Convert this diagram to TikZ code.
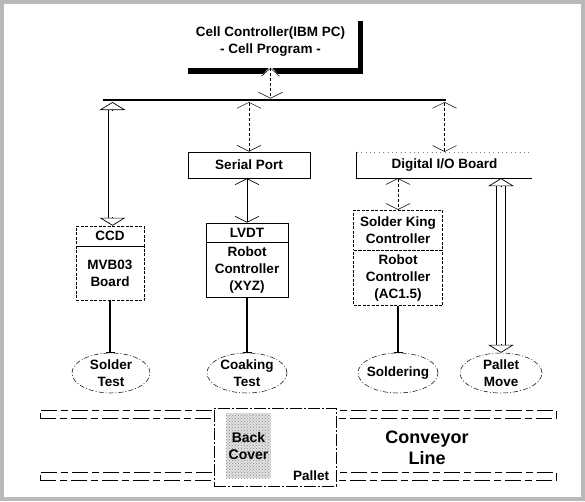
\documentclass[tikz,border=0pt]{standalone}
\usepackage{fontspec}
\setmainfont{Liberation Sans}
\usetikzlibrary{arrows.meta,positioning,shapes.geometric,shadows,calc,patterns}

\begin{document}
\begin{tikzpicture}[x=1pt, y=-1pt,
  every node/.style={font=\bfseries\fontsize{13.5}{17}\selectfont, align=center, inner sep=0pt},
  bx/.style={draw, line width=0.7pt},
  dbx/.style={draw, line width=0.5pt, dash pattern=on 3pt off 1.5pt},
  el/.style={ellipse, draw, line width=0.5pt, dash pattern=on 5pt off 2pt on 1pt off 2pt, minimum width=80pt, minimum height=40pt, inner xsep=-6pt, inner ysep=-2pt},
  rail/.style={draw, line width=0.6pt, dash pattern=on 16pt off 4pt on 7pt off 4pt, minimum width=516pt, minimum height=8pt},
  dbl/.style={densely dashed, line width=0.5pt, {Straight Barb[length=6pt,width=24pt]}-{Straight Barb[length=6pt,width=24pt]}},
  sbl/.style={line width=0.6pt, {Straight Barb[length=6pt,width=24pt]}-{Straight Barb[length=6pt,width=24pt]}},
  stem/.style={line width=1.6pt, -{Bar[width=9pt,line width=1pt]}},
  fat/.style={double, double distance=8pt, line width=0.7pt, shorten <=7.5pt, shorten >=7.5pt},
  fathead/.style={line width=0.7pt, -{Triangle[open, fill=white, length=8pt, width=26pt, line join=miter]}}]
\useasboundingbox (0,0) rectangle (585,501);
\draw[gray!55, line width=4pt] (2,2) rectangle (583,499);
% Cell controller and bus
\node[fill=white, minimum width=175pt, minimum height=53pt, drop shadow={shadow xshift=5pt, shadow yshift=-6pt, fill=black, opacity=1}] (cell) at (270.5,41.5) {Cell Controller(IBM PC)\\- Cell Program -};
\fill[white] ($(cell.south)+(-9,8)$) -- ($(cell.south)+(0,-2)$) -- ($(cell.south)+(9,8)$) -- cycle;
\draw[line width=0.5pt] ($(cell.south)+(-9,8)$) -- ($(cell.south)+(0,0)$) -- ($(cell.south)+(9,8)$);
\coordinate (busL) at (103,100);
\coordinate (busR) at (446,100);
\draw[line width=2.5pt] (busL) -- (busR);
\draw[densely dashed, line width=0.5pt, -{Straight Barb[length=6pt,width=24pt]}, shorten >=1.5pt] (cell.south) -- (cell.south |- busL);
% Interfaces
\node[bx, minimum width=122pt, minimum height=26pt] (serial) at (249,165) {Serial Port};
\node[minimum width=175pt, minimum height=26pt] (dio) at (444.5,165) {Digital I/O Board};
\draw[line width=0.7pt] (dio.north west) -- (dio.south west) -- (dio.south east);
\draw[gray, loosely dotted] (dio.north west) -- (dio.north east);
% Controllers
\node[dbx, minimum width=68pt, minimum height=20pt] (ccd) at (110,236) {CCD};
\node[dbx, minimum width=68pt, minimum height=54pt, below=0pt of ccd] (mvb) {MVB03\\Board};
\node[bx, minimum width=82pt, minimum height=19pt] (lvdt) at (247,232.5) {LVDT};
\node[bx, minimum width=82pt, minimum height=55pt, below=0pt of lvdt] (xyz) {Robot\\Controller\\(XYZ)};
\node[dbx, minimum width=89pt, minimum height=40pt] (sking) at (398,230) {Solder King\\Controller};
\node[dbx, minimum width=89pt, minimum height=55pt, below=0pt of sking] (ac) {Robot\\Controller\\(AC1.5)};
% Tasks
\node[el, minimum width=78pt] (stest) at (111,373) {Solder\\Test};
\node[el] (ctest) at (247,373) {Coaking\\Test};
\node[el] (solder) at (398,373) {Soldering};
\node[el, minimum width=82pt] (pmove) at (501,373) {Pallet\\Move};
% Links
\coordinate (ccdtop) at ([xshift=2.5pt]ccd.north |- busL);
\coordinate (ccdbot) at ([xshift=2.5pt]ccd.north);
\draw[fat] ([yshift=-2pt]ccdtop) -- (ccdbot);
\draw[fathead] ($(ccdtop)+(0,11)$) -- ([yshift=-2pt]ccdtop);
\draw[fathead] ($(ccdbot)+(0,-9)$) -- (ccdbot);
\draw[dbl, shorten <=2pt] (serial.north |- busL) -- (serial.north);
\draw[dbl, shorten <=2pt] (dio.north |- busL) -- (dio.north);
\draw[sbl] (lvdt.north |- serial.south) -- (lvdt.north);
\draw[dbl] (sking.north |- dio.south) -- (sking.north);
\coordinate (pmtop) at (pmove.north |- dio.south);
\draw[fat] (pmtop) -- (pmove.north);
\draw[fathead] ($(pmtop)+(0,9)$) -- (pmtop);
\draw[fathead] ($(pmove.north)+(0,-9)$) -- (pmove.north);
\draw[stem] (mvb.south) -- (mvb.south |- stest.north);
\draw[stem] (xyz.south) -- (ctest.north);
\draw[stem] (ac.south) -- (solder.north);
% Conveyor
\node[rail] (railtop) at (298,414) {};
\node[rail] (railbot) at (298,476) {};
\node[draw, fill=white, line width=0.6pt, dash pattern=on 12pt off 2pt on 2pt off 2pt, minimum width=122pt, minimum height=78pt] (pallet) at (275,447) {};
\node[fill=black!12, postaction={pattern=crosshatch dots, pattern color=black!45}, minimum width=45pt, minimum height=65pt] (cover) at (248.5,445.5) {};
\node[font=\bfseries\fontsize{14}{17}\selectfont] (covertxt) at (cover) {Back\\Cover};
\node[anchor=base east] (pallettxt) at ($(pallet.south east)+(-7,-6)$) {Pallet};
\node[font=\bfseries\fontsize{18}{21}\selectfont] (conv) at (427,447.5) {Conveyor\\Line};
\end{tikzpicture}
\end{document}
